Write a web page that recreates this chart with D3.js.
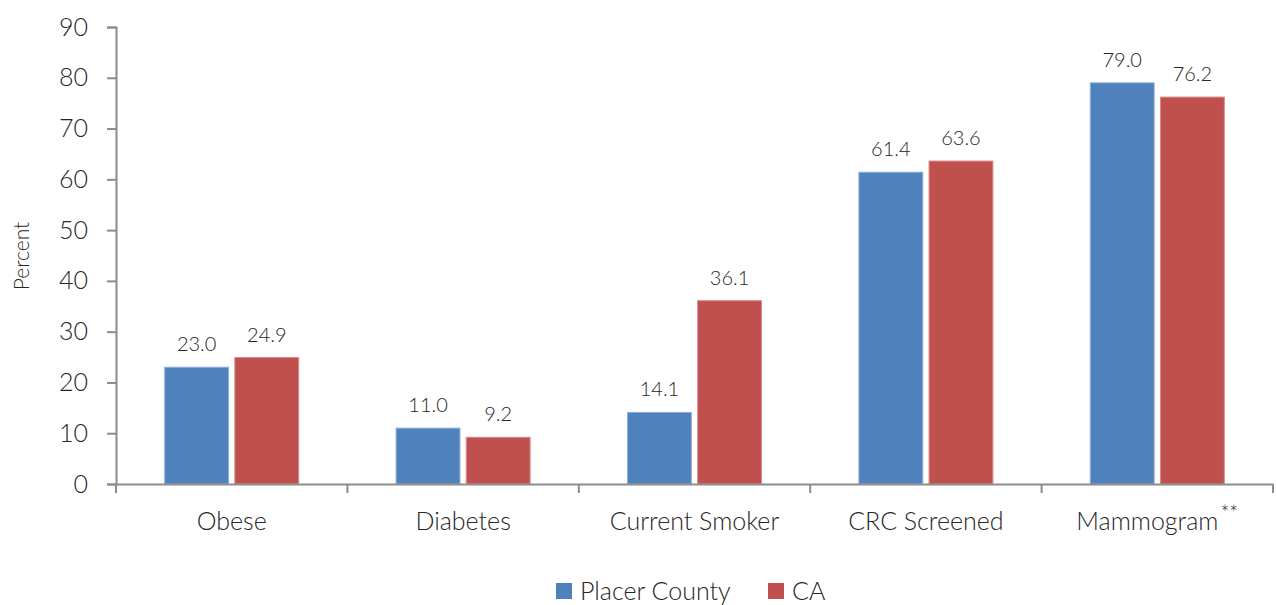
<html>
<head>
  <meta charset="utf8">
  <title>Placer County vs CA</title>
  <style>
  * { margin: 0; padding: 0; }
  body { background: #fff; }
  text { font-family: Lato, "Open Sans", sans-serif; fill: #262626; }
  </style>
</head>
<body>
  <script src="https://cdn.jsdelivr.net/npm/d3@7"></script>
  <script>
  // data
  var categories = ["Obese", "Diabetes", "Current Smoker", "CRC Screened", "Mammogram"];
  var seriesNames = ["Placer County", "CA"];
  var placerValues = [23.0, 11.0, 14.1, 61.4, 79.0];
  var caValues = [24.9, 9.2, 36.1, 63.6, 76.2];
  var yTicks = [0, 10, 20, 30, 40, 50, 60, 70, 80, 90];
  var colors = ["#4F81BD", "#C0504D"];

  var w = 1277, h = 605;
  var plotLeft = 116, plotRight = 1273, plotTop = 27, plotBottom = 484;

  var svg = d3.select("body").append("svg")
    .attr("width", w)
    .attr("height", h);

  var x0 = d3.scaleBand()
    .domain(categories)
    .range([plotLeft, plotRight])
    .paddingInner(0)
    .paddingOuter(0);

  var groupW = 134;
  var x1 = d3.scaleBand()
    .domain(seriesNames)
    .range([0, groupW])
    .paddingInner(6 / 67);

  var y = d3.scaleLinear()
    .domain([0, 90])
    .range([plotBottom, plotTop]);

  var rows = categories.map(function(c, i) {
    return { cat: c, vals: [placerValues[i], caValues[i]] };
  });

  // bars
  var groups = svg.selectAll("g.cat")
    .data(rows)
    .enter()
    .append("g")
    .attr("class", "cat")
    .attr("transform", function(d) {
      return "translate(" + (x0(d.cat) + (x0.bandwidth() - groupW) / 2) + ",0)";
    });

  groups.selectAll("rect")
    .data(function(d) { return d.vals.map(function(v, j) { return { s: seriesNames[j], v: v, j: j }; }); })
    .enter()
    .append("rect")
    .attr("x", function(d) { return x1(d.s); })
    .attr("width", x1.bandwidth())
    .attr("y", function(d) { return y(d.v); })
    .attr("height", function(d) { return y(0) - y(d.v); })
    .attr("fill", function(d) { return colors[d.j]; })
    .attr("stroke", function(d) { return d.j === 0 ? "#8eaedb" : "#d88a88"; })
    .attr("stroke-width", 1);

  groups.selectAll("text.val")
    .data(function(d) { return d.vals.map(function(v, j) { return { s: seriesNames[j], v: v }; }); })
    .enter()
    .append("text")
    .attr("class", "val")
    .attr("x", function(d) { return x1(d.s) + x1.bandwidth() / 2; })
    .attr("y", function(d) { return y(d.v) - 16; })
    .attr("text-anchor", "middle")
    .style("font-size", "20px")
    .style("font-weight", 300)
    .text(function(d) { return d.v.toFixed(1); });

  // y axis
  var yAxis = d3.axisLeft(y)
    .tickValues(yTicks)
    .tickSize(9)
    .tickPadding(19)
    .tickFormat(d3.format("d"));

  var gy = svg.append("g")
    .attr("transform", "translate(" + plotLeft + ",0)")
    .call(yAxis);
  gy.select(".domain").attr("stroke", "#8c8c8c").attr("stroke-width", 2);
  gy.selectAll(".tick line").attr("stroke", "#8c8c8c").attr("stroke-width", 2);
  gy.selectAll(".tick text")
    .attr("fill", "#262626")
    .style("font-family", "Lato, sans-serif")
    .style("font-size", "25px")
    .style("font-weight", 300);

  // x axis
  var xAxis = d3.axisBottom(x0)
    .tickSize(0)
    .tickFormat("");

  var gx = svg.append("g")
    .attr("transform", "translate(0," + plotBottom + ")")
    .call(xAxis);
  gx.select(".domain").attr("stroke", "#8c8c8c").attr("stroke-width", 2);

  // category boundary ticks
  var bounds = categories.map(function(c) { return x0(c); }).concat([plotRight]);
  gx.selectAll("line.bound")
    .data(bounds)
    .enter()
    .append("line")
    .attr("class", "bound")
    .attr("x1", function(d) { return d; })
    .attr("x2", function(d) { return d; })
    .attr("y1", 0)
    .attr("y2", 9)
    .attr("stroke", "#8c8c8c")
    .attr("stroke-width", 2);

  // category labels
  var catLabels = svg.selectAll("text.cat")
    .data(categories)
    .enter()
    .append("text")
    .attr("class", "cat")
    .attr("x", function(d) { return x0(d) + x0.bandwidth() / 2; })
    .attr("y", 530)
    .attr("text-anchor", "middle")
    .style("font-size", "25px")
    .style("font-weight", 300);
  catLabels.append("tspan").text(function(d) { return d; });
  catLabels.filter(function(d) { return d === "Mammogram"; })
    .append("tspan")
    .attr("dy", -9)
    .attr("dx", 2)
    .style("font-size", "21px")
    .text("**");

  // y title
  svg.append("text")
    .attr("transform", "translate(29,256) rotate(-90)")
    .attr("text-anchor", "middle")
    .style("font-size", "21px")
    .style("font-weight", 300)
    .text("Percent");

  // legend
  var legendX = [556, 768];
  var legend = svg.selectAll("g.leg")
    .data(seriesNames)
    .enter()
    .append("g")
    .attr("class", "leg")
    .attr("transform", function(d, i) { return "translate(" + legendX[i] + ",583)"; });
  legend.append("rect")
    .attr("width", 16)
    .attr("height", 16)
    .attr("fill", function(d, i) { return colors[i]; });
  legend.append("text")
    .attr("x", 24)
    .attr("y", 17)
    .style("font-size", "25px")
    .style("font-weight", 300)
    .text(function(d) { return d; });
  </script>
</body>
</html>
